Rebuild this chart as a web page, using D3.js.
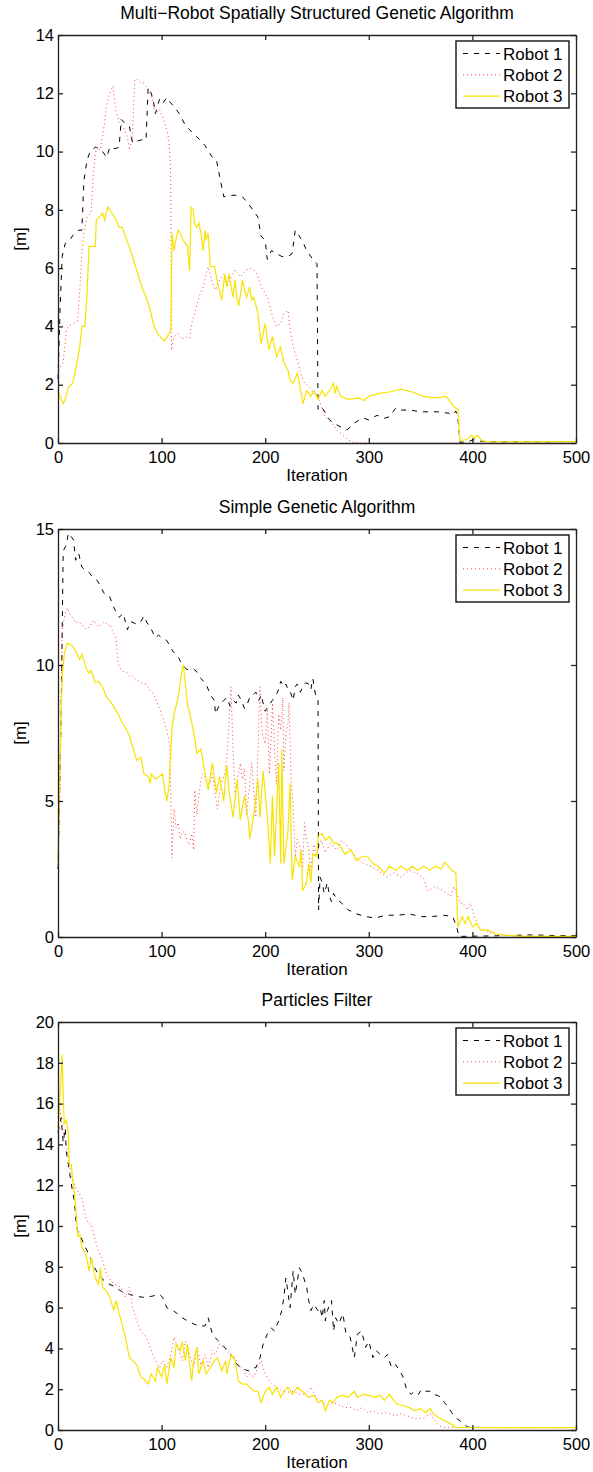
<!DOCTYPE html>
<html>
<head>
<meta charset="utf-8">
<script src="https://cdn.jsdelivr.net/npm/d3@7"></script>
<style>
  body { margin: 0; background: #fff; }
  svg text { font-family: "Liberation Sans", Arial, Helvetica, sans-serif; }
</style>
</head>
<body>
<div id="chart"></div>
<script>
// ---- data ----
const iterTicks = [0, 100, 200, 300, 400, 500];
const robotNames = ["Robot 1", "Robot 2", "Robot 3"];
const panelTitles = [
    "Multi\u2212Robot Spatially Structured Genetic Algorithm",
    "Simple Genetic Algorithm",
    "Particles Filter"
];
const ssgaTicks = [0, 2, 4, 6, 8, 10, 12, 14];
const sgaTicks = [0, 5, 10, 15];
const pfTicks = [0, 2, 4, 6, 8, 10, 12, 14, 16, 18, 20];

// Multi-Robot Spatially Structured GA  [iteration, metres]
const ssgaRobot1 = [[0,2.2],[2,4.6],[4,6.4],[7,6.85],[12,7.0],[16,7.2],[20,7.3],[23,7.3],[25,9.0],[28,9.7],[31,10.0],[36,10.15],[40,10.1],[43,10.0],[47,9.8],[50,10.15],[55,10.1],[59,10.15],[61,11.1],[65,10.95],[69,10.85],[72,10.3],[76,10.35],[80,10.4],[85,10.4],[87,12.2],[90,12.0],[92,11.75],[94,11.3],[98,11.8],[101,11.65],[105,11.85],[108,11.7],[112,11.55],[117,11.3],[123,10.9],[131,10.6],[137,10.4],[142,10.2],[149,9.8],[153,9.7],[156,9.15],[160,8.45],[166,8.5],[171,8.5],[178,8.45],[184,8.2],[188,8.0],[193,7.75],[196,7.1],[200,6.95],[202,6.3],[206,6.6],[211,6.5],[216,6.4],[222,6.4],[226,6.5],[229,7.3],[233,7.1],[237,6.85],[240,6.6],[246,6.3],[250,6.15],[251,1.15],[254,1.25],[258,1.05],[262,0.8],[266,0.68],[273,0.55],[279,0.45],[286,0.68],[291,0.8],[295,0.86],[300,0.79],[308,0.95],[315,0.85],[320,0.9],[326,1.2],[331,1.13],[340,1.13],[350,1.07],[359,1.07],[368,1.07],[377,1.02],[381,0.96],[384,1.1],[386,0.85],[388,0.02],[395,0.04],[400,0.1],[404,0.12],[408,0.06],[415,0.05],[430,0.04],[450,0.05],[470,0.04],[490,0.05],[500,0.05]];
const ssgaRobot2 = [[0,2.5],[2,2.6],[5,2.75],[8,3.85],[10,4.0],[15,4.1],[19,4.2],[21,5.25],[23,6.5],[25,7.2],[28,7.75],[32,7.9],[34,9.25],[37,10.15],[41,10.05],[45,11.0],[47,11.65],[50,12.0],[53,12.25],[56,11.4],[59,11.0],[63,10.85],[67,10.5],[69,10.05],[72,10.6],[74,12.45],[76,12.5],[80,12.35],[83,12.35],[87,12.1],[90,11.9],[94,11.3],[98,11.45],[101,11.2],[105,10.75],[107,10.4],[108.5,9.6],[109,8.1],[109.5,3.2],[112,3.65],[116,3.75],[120,3.55],[123,3.65],[127,3.6],[129,4.1],[132,4.45],[136,5.0],[140,5.35],[143,5.8],[145,6.05],[149,5.5],[152,5.25],[156,5.6],[160,5.8],[163,5.35],[167,5.7],[171,5.95],[176,5.7],[182,5.95],[187,6.0],[192,5.8],[196,5.35],[200,5.15],[203,4.9],[207,4.35],[211,4.0],[215,4.1],[218,4.45],[222,4.55],[224,3.9],[227,3.3],[231,2.85],[235,2.3],[238,2.05],[242,1.95],[247,1.7],[251,1.6],[255,1.15],[258,0.9],[264,0.68],[269,0.45],[275,0.27],[280,0.1],[286,0.01],[300,0],[350,0],[400,0],[450,0],[500,0]];
const ssgaRobot3 = [[0,1.8],[3,1.5],[5,1.35],[7,1.5],[10,1.9],[14,2.05],[17,2.5],[21,3.3],[23,4.0],[26,4.0],[28,5.1],[30,6.75],[33,6.75],[36,6.75],[37,7.65],[40,7.75],[43,7.9],[45,7.65],[48,8.1],[52,7.9],[56,7.65],[59,7.4],[62,7.4],[65,7.1],[70,6.6],[74,6.15],[78,5.7],[81,5.35],[85,5.0],[89,4.55],[92,4.1],[96,3.75],[100,3.6],[103,3.5],[107,3.75],[109,3.9],[110,7.2],[112,6.6],[114,7.0],[116,7.3],[118,7.2],[121,6.95],[125,6.75],[127,5.9],[128.5,8.1],[130.5,8.0],[132,7.5],[134,7.4],[136,7.55],[138,7.2],[140,6.6],[142,7.3],[143,6.95],[145,7.2],[147,6.05],[151,6.05],[154,5.5],[158,4.9],[161,5.8],[163,5.35],[165,5.8],[169,5.0],[171,5.6],[172.6,5.0],[174.5,4.7],[178,5.6],[182,5.0],[185,5.35],[187,4.9],[189,5.0],[193,4.45],[196,3.4],[200,4.1],[203.6,3.2],[207,3.65],[211,2.95],[214.6,3.3],[218,2.75],[222,2.5],[224,2.15],[227,2.05],[231,2.4],[233,2.05],[236.5,1.35],[240,1.8],[244,1.6],[247.4,1.8],[251,1.5],[255,1.8],[258,1.6],[262,1.8],[266,2.05],[267.5,1.7],[269,1.95],[273,1.6],[280,1.5],[291,1.55],[295,1.45],[300,1.6],[310,1.7],[320,1.75],[331,1.85],[342,1.75],[353,1.6],[364,1.55],[375,1.6],[382,1.25],[386,1.15],[388,0.08],[395,0.12],[399,0.27],[402,0.17],[405,0.27],[409,0.08],[414,0.05],[440,0.04],[470,0.05],[500,0.05]];

// Simple GA
const sgaRobot1 = [[0,2.5],[3,8.0],[5,14.2],[8,14.4],[10,14.85],[13,14.7],[15,14.6],[17,13.85],[20,14.1],[23,13.6],[26,13.5],[30,13.4],[34,13.2],[38,13.1],[41,12.9],[45,12.6],[50,12.5],[54,12.1],[59,11.75],[63,11.9],[67,11.3],[70,11.6],[76,11.5],[80,11.6],[83,11.8],[86,11.55],[89,11.4],[94,11.0],[97,11.1],[100,11.0],[105,10.9],[108,10.7],[111,10.5],[116,10.3],[120,10.0],[124,9.85],[127,9.8],[131,9.85],[134,9.75],[138,9.5],[143,9.3],[147,8.9],[151,8.7],[152,8.2],[156,8.55],[160,8.7],[163,8.8],[166,8.5],[169,8.7],[172,8.6],[174,8.9],[177,8.7],[180,8.4],[183,8.6],[185,8.8],[188,8.9],[191,9.0],[194,8.7],[196,8.9],[198,8.6],[200,8.3],[204,8.55],[207,8.7],[209,8.8],[212,9.0],[215,9.4],[218,9.2],[220,9.3],[222,9.1],[224,9.05],[227,8.7],[229,9.2],[231,9.3],[234,9.0],[236,9.2],[239,9.35],[242,9.3],[244,9.1],[246,9.5],[249,8.8],[251,8.7],[251.5,1.0],[253,2.2],[255,2.0],[257,1.6],[260,2.0],[262,1.5],[264,1.3],[266,1.6],[269,1.4],[275,1.2],[280,1.0],[288,0.85],[297,0.75],[306,0.7],[317,0.8],[328,0.8],[339,0.85],[350,0.75],[361,0.75],[372,0.8],[381,0.75],[385,0.35],[387,0.02],[400,0.03],[420,0.04],[440,0.06],[460,0.08],[480,0.05],[500,0.05]];
const sgaRobot2 = [[0,2.5],[2,5.5],[4,11.3],[7,11.9],[9,12.1],[11,11.9],[14,11.75],[17,11.55],[19,11.6],[23,11.5],[26,11.35],[28,11.3],[31,11.45],[34,11.65],[37,11.5],[39,11.4],[42,11.5],[45,11.6],[48,11.45],[50,11.5],[52,11.3],[56,11.0],[58,10.05],[61,9.8],[64,9.75],[67,9.7],[70,9.55],[72,9.6],[75,9.45],[78,9.4],[82,9.3],[85,9.3],[88,9.1],[90,9.05],[94,8.8],[98,8.4],[101,8.1],[105,7.6],[108,7.0],[110,2.9],[112,4.7],[114,4.0],[116,4.2],[118,3.6],[120,3.9],[123,3.8],[125,3.5],[127,3.4],[129,3.8],[131,3.2],[132,5.4],[134,4.5],[136,5.2],[138,5.8],[140,6.0],[143,5.8],[146,5.6],[149,6.0],[152,5.2],[154,4.7],[156,5.3],[159,5.8],[161,6.0],[163,6.6],[165,7.8],[167,9.2],[169,6.8],[171,5.2],[174,6.0],[176,6.4],[178,5.8],[180,6.2],[182,4.5],[185,5.6],[187,6.4],[189,5.4],[191,4.4],[193,6.8],[195,9.2],[197,7.5],[200,7.1],[202,8.4],[204,6.0],[206,7.6],[207,8.6],[209,7.0],[211,5.6],[213,8.2],[215,7.6],[217,8.8],[218,6.1],[220,7.5],[222,7.8],[223,8.6],[225,5.8],[227,4.8],[229,2.95],[231,3.6],[233,3.4],[236,2.45],[238,4.2],[240,3.6],[242,3.2],[244,2.45],[247,3.4],[249,3.0],[251,3.2],[254,3.55],[258,3.1],[263,3.45],[269,3.2],[274,3.55],[280,3.3],[287,2.95],[295,2.7],[302,2.6],[309,2.45],[317,2.2],[324,2.35],[331,2.2],[339,2.45],[346,2.35],[353,2.15],[357,1.7],[364,1.85],[372,1.7],[379,1.5],[382,1.85],[386,1.5],[388,1.25],[391,1.25],[395,1.0],[398,1.25],[402,0.75],[406,0.37],[412,0.25],[419,0.12],[430,0.06],[450,0.03],[475,0.02],[500,0.02]];
const sgaRobot3 = [[0,2.6],[2,6.5],[4,9.5],[6,10.4],[9,10.8],[12,10.75],[14,10.7],[17,10.5],[21,10.2],[23,10.4],[27,9.9],[30,9.7],[32,9.8],[36,9.35],[39,9.4],[43,9.2],[47,8.8],[50,8.7],[54,8.45],[58,8.2],[61,7.95],[65,7.7],[69,7.4],[72,7.0],[76,6.5],[80,6.6],[83,6.0],[87,5.9],[89,5.65],[90,6.0],[94,5.8],[98,5.9],[101,6.0],[103,5.4],[105,5.0],[107,5.5],[109,6.9],[110,7.7],[112,8.2],[116,8.8],[120,9.9],[121,10.0],[123,9.3],[125,8.55],[129,7.9],[132,7.3],[134,6.75],[138,6.9],[142,6.0],[145,5.4],[149,6.4],[153,5.3],[156,5.9],[160,5.0],[162,6.0],[163,6.3],[165,5.4],[169,4.4],[173,5.8],[176,4.3],[180,5.2],[184,4.2],[185,3.6],[189,4.5],[193,5.8],[195,4.4],[198,6.1],[202,4.5],[205,2.7],[207,5.2],[209,2.95],[213,6.4],[215,2.7],[216,6.9],[218,2.7],[222,3.9],[224,5.65],[226,2.1],[229,2.95],[233,2.6],[235,3.2],[236,1.7],[240,2.0],[242,2.7],[244,2.0],[246,3.05],[250,2.95],[251,3.7],[255,3.8],[258,3.55],[262,3.7],[266,3.45],[269,3.45],[273,3.3],[277,3.05],[283,3.2],[288,2.8],[293,2.95],[299,2.95],[304,2.7],[309,2.6],[315,2.35],[320,2.6],[326,2.45],[331,2.6],[337,2.45],[342,2.6],[347,2.45],[353,2.6],[359,2.45],[364,2.6],[370,2.5],[373,2.75],[377,2.6],[380,2.45],[384,2.35],[386,0.37],[390,0.75],[393,0.5],[396,0.75],[400,0.37],[404,0.5],[408,0.25],[415,0.25],[422,0.12],[434,0.06],[445,0.03],[470,0.02],[500,0.02]];

// Particles filter
const pfRobot1 = [[0,14.6],[3,15.3],[5,14.1],[7,14.8],[8,13.65],[10,13.0],[12,12.35],[14,11.7],[16,11.2],[17,10.4],[19,9.75],[21,9.6],[25,9.1],[28,8.8],[34,8.1],[39,7.6],[47,7.2],[54,7.05],[61,6.8],[69,6.65],[76,6.55],[83,6.5],[90,6.55],[98,6.65],[101,6.5],[105,6.0],[111,5.85],[114,5.75],[120,5.5],[125,5.35],[131,5.2],[136,5.1],[142,5.1],[145,5.5],[149,4.7],[154,4.4],[160,4.1],[165,3.8],[169,3.55],[173,3.2],[178,3.0],[184,2.9],[187,3.05],[191,3.05],[195,3.55],[198,4.2],[202,4.7],[206,5.0],[209,4.85],[213,5.35],[216,5.85],[218,6.5],[220,7.45],[224,6.0],[227,7.8],[229,6.65],[233,7.95],[236,7.65],[240,7.0],[242,6.35],[244,5.85],[247,6.15],[251,5.85],[253,6.0],[255,5.5],[257,6.35],[258,5.35],[260,5.85],[264,6.35],[266,4.85],[268,5.5],[271,5.2],[275,5.7],[278,4.7],[282,4.55],[286,3.55],[289,4.7],[293,4.85],[297,4.05],[300,4.35],[304,3.55],[307,3.9],[311,3.7],[315,3.55],[318,3.7],[322,3.05],[326,3.2],[330,2.9],[333,2.6],[337,1.9],[341,1.75],[344,1.9],[348,1.75],[351,2.0],[355,1.9],[359,1.9],[362,1.75],[366,1.7],[370,1.6],[373,1.35],[377,1.1],[380,0.85],[384,0.6],[388,0.45],[392,0.3],[395,0.15],[401,0.13],[430,0.12],[460,0.12],[500,0.12]];
const pfRobot2 = [[0,15.3],[1,16.1],[3,15.3],[5,14.6],[8,14.0],[12,12.7],[16,12.0],[19,11.7],[23,11.4],[27,10.4],[30,10.1],[32,10.1],[36,9.3],[39,8.8],[43,8.3],[47,7.6],[54,7.15],[61,7.0],[65,6.5],[69,7.0],[72,6.0],[76,5.35],[80,4.85],[85,4.55],[89,4.05],[94,3.4],[98,3.05],[101,3.4],[105,3.05],[109,3.7],[112,4.55],[116,4.05],[120,3.4],[123,4.35],[127,3.7],[131,3.05],[134,4.05],[138,3.2],[142,3.7],[145,3.05],[149,3.9],[152,3.7],[156,4.2],[160,4.05],[163,3.9],[167,3.7],[171,3.55],[174,3.2],[178,3.05],[182,2.6],[185,2.75],[189,2.6],[193,3.05],[196,3.4],[200,2.75],[204,2.4],[207,2.25],[211,2.1],[216,1.9],[222,1.85],[227,1.9],[233,1.75],[238,1.75],[244,2.1],[249,1.6],[255,1.35],[260,1.25],[266,1.35],[272,1.2],[277,1.1],[283,1.1],[288,0.95],[294,1.1],[299,0.85],[304,0.95],[309,0.8],[315,0.85],[320,0.8],[326,0.7],[331,0.8],[337,0.7],[342,0.6],[348,0.55],[353,0.6],[359,0.8],[364,0.45],[368,0.2],[373,0.13],[420,0.12],[460,0.12],[500,0.12]];
const pfRobot3 = [[0,14.8],[2,16.4],[4,18.4],[5,16.4],[6,15.0],[8,15.2],[10,14.5],[11,13.0],[13,13.0],[14,12.2],[15,12.0],[17,11.05],[19,9.5],[21,9.6],[23,8.95],[27,8.6],[30,7.8],[32,8.45],[36,7.45],[39,7.15],[41,7.95],[43,7.0],[47,6.8],[50,6.5],[54,5.85],[56,6.35],[59,5.7],[61,5.35],[65,4.55],[67,4.05],[69,3.55],[72,3.4],[76,3.2],[80,2.6],[83,2.5],[87,2.25],[90,2.75],[94,2.4],[96,3.05],[100,2.6],[103,3.2],[105,2.25],[109,3.55],[112,3.05],[114,4.2],[118,3.9],[120,4.35],[123,3.4],[125,4.2],[129,2.4],[131,3.4],[134,4.05],[136,2.75],[140,3.4],[143,2.75],[147,3.05],[151,3.4],[154,3.55],[158,2.9],[162,3.4],[163,2.75],[167,3.7],[171,3.4],[174,2.4],[178,2.25],[182,2.25],[185,2.1],[189,1.9],[193,1.9],[196,1.35],[200,1.9],[204,2.1],[207,1.75],[211,2.1],[215,1.6],[218,1.9],[222,2.1],[226,1.75],[231,2.1],[236,1.9],[242,1.6],[247,1.7],[251,1.35],[255,1.45],[258,0.95],[262,1.45],[266,1.35],[269,1.6],[275,1.7],[280,1.6],[286,1.9],[289,1.6],[295,1.75],[300,1.7],[306,1.6],[311,1.7],[315,1.45],[320,1.75],[324,1.45],[328,1.25],[333,1.2],[339,1.1],[344,0.95],[350,1.05],[355,0.85],[359,1.05],[362,0.8],[368,0.6],[373,0.45],[379,0.3],[384,0.13],[420,0.12],[460,0.12],[500,0.12]];

// ---- layout ----
const width = 593;
const height = 1472;
const left = 58;
const plotW = 518;
const plotH = 408;
const tops = [35, 529, 1022];
const tickFont = 16.5;
const labelFont = 17;
const titleFont = 17.5;

const panels = [
    { title: panelTitles[0], yMax: 14, ticks: ssgaTicks, series: [ssgaRobot1, ssgaRobot2, ssgaRobot3] },
    { title: panelTitles[1], yMax: 15, ticks: sgaTicks, series: [sgaRobot1, sgaRobot2, sgaRobot3] },
    { title: panelTitles[2], yMax: 20, ticks: pfTicks, series: [pfRobot1, pfRobot2, pfRobot3] }
];

// line styles: dashed black, dotted red, solid yellow
const lineStyles = [
    { color: "#000000", dash: "5,6", w: 1 },
    { color: "#ff4040", dash: "1,3", w: 1 },
    { color: "#f7e300", dash: null, w: 1.2 }
];

const svg = d3.select("#chart")
    .append("svg")
    .attr("width", width)
    .attr("height", height);

svg.append("rect")
    .attr("width", width)
    .attr("height", height)
    .attr("fill", "#fff");

panels.forEach((p, pi) => {
    const top = tops[pi];
    const g = svg.append("g")
        .attr("transform", `translate(${left},${top})`);

    const x = d3.scaleLinear().domain([0, 500]).range([0, plotW]);
    const y = d3.scaleLinear().domain([0, p.yMax]).range([plotH, 0]);

    const line = d3.line()
        .x(d => x(d[0]))
        .y(d => y(d[1]));

    // series
    p.series.forEach((s, si) => {
        const st = lineStyles[si];
        g.append("path")
            .datum(s)
            .attr("fill", "none")
            .attr("stroke", st.color)
            .attr("stroke-width", st.w)
            .attr("stroke-dasharray", st.dash)
            .attr("d", line);
    });

    // box axes, ticks pointing inward
    const xb = g.append("g")
        .attr("transform", `translate(0,${plotH})`)
        .call(d3.axisBottom(x).tickValues(iterTicks).tickSizeInner(-5).tickSizeOuter(0).tickPadding(8));
    const xt = g.append("g")
        .call(d3.axisTop(x).tickValues(iterTicks).tickSizeInner(-5).tickSizeOuter(0).tickFormat(""));
    const yl = g.append("g")
        .call(d3.axisLeft(y).tickValues(p.ticks).tickSizeInner(-5).tickSizeOuter(0).tickPadding(4));
    const yr = g.append("g")
        .attr("transform", `translate(${plotW},0)`)
        .call(d3.axisRight(y).tickValues(p.ticks).tickSizeInner(-5).tickSizeOuter(0).tickFormat(""));

    [xb, xt, yl, yr].forEach(a => {
        a.attr("font-family", null).attr("font-size", tickFont);
        a.selectAll(".domain, .tick line")
            .attr("stroke", "#222")
            .attr("stroke-width", 1.3);
        a.selectAll("text").attr("fill", "#000");
    });

    // title
    g.append("text")
        .attr("x", plotW / 2)
        .attr("y", -16)
        .attr("text-anchor", "middle")
        .style("font-size", titleFont + "px")
        .text(p.title);

    // axis labels
    g.append("text")
        .attr("x", plotW / 2)
        .attr("y", plotH + 38)
        .attr("text-anchor", "middle")
        .style("font-size", labelFont + "px")
        .text("Iteration");

    g.append("text")
        .attr("transform", `translate(${26 - left},${plotH / 2}) rotate(-90)`)
        .attr("text-anchor", "middle")
        .style("font-size", labelFont + "px")
        .text("[m]");

    // legend
    const lg = g.append("g")
        .attr("transform", `translate(${plotW - 120},6)`);
    lg.append("rect")
        .attr("width", 113)
        .attr("height", 67)
        .attr("fill", "#fff")
        .attr("stroke", "#111")
        .attr("stroke-width", 1.4);
    robotNames.forEach((name, i) => {
        const st = lineStyles[i];
        const ly = 12.5 + i * 21.3;
        lg.append("line")
            .attr("x1", 7).attr("x2", 44)
            .attr("y1", ly).attr("y2", ly)
            .attr("stroke", st.color)
            .attr("stroke-width", st.w)
            .attr("stroke-dasharray", st.dash);
        lg.append("text")
            .attr("x", 47)
            .attr("y", ly + 6)
            .style("font-size", labelFont + "px")
            .text(name);
    });
});
</script>
</body>
</html>
